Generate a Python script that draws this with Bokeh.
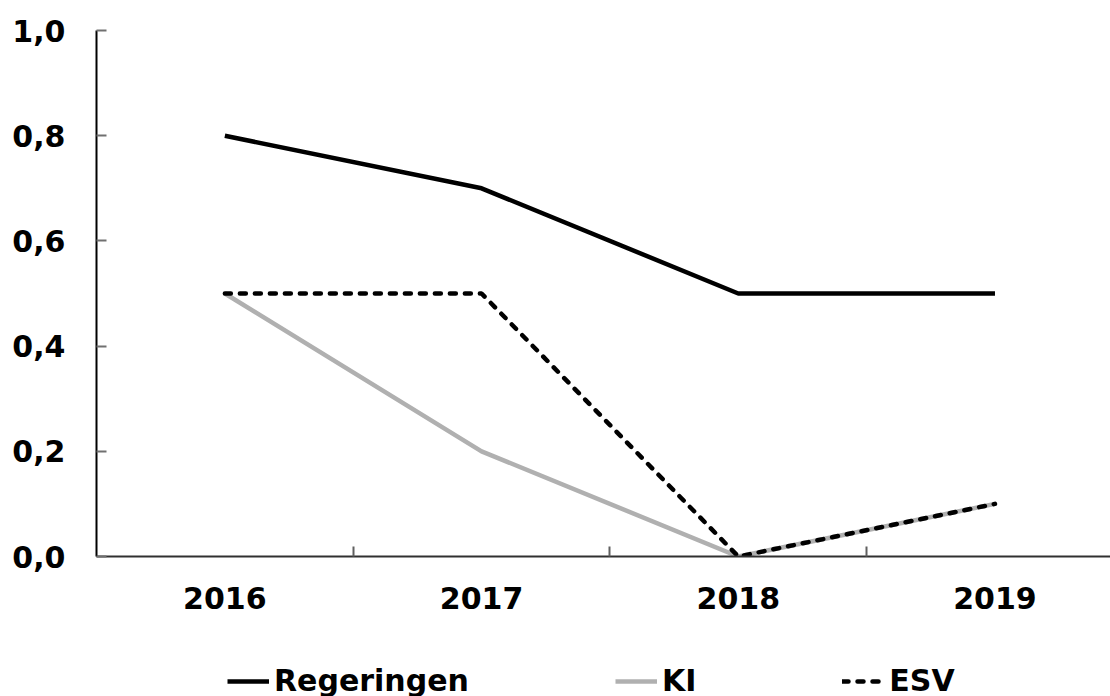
from bokeh.plotting import figure
from bokeh.models import Range1d, FixedTicker, Legend, LegendItem
from bokeh.layouts import column
from bokeh.embed import file_html
from bokeh.resources import INLINE

years = ["2016", "2017", "2018", "2019"]
regeringen = [0.8, 0.7, 0.5, 0.5]
ki = [0.5, 0.2, 0.0, 0.1]
esv = [0.5, 0.5, 0.0, 0.1]
y_ticks = [0.0, 0.2, 0.4, 0.6, 0.8, 1.0]
y_labels = ["0,0", "0,2", "0,4", "0,6", "0,8", "1,0"]
series_names = ["Regeringen", "KI", "ESV"]

xs = list(range(len(years)))
series = [regeringen, ki, esv]

FONT = "DejaVu Sans"
FS = "30px"
styles = [dict(line_color="black", line_width=4.5),
          dict(line_color="#b0b0b0", line_width=4.5),
          dict(line_color="black", line_width=4.5, line_dash="6 9", line_cap="round")]

p = figure(width=1110, height=622, output_backend="svg", toolbar_location=None,
           x_range=Range1d(-0.5, 3.45), y_range=Range1d(0, 1.0),
           min_border_left=96, min_border_right=0, min_border_top=30,
           min_border_bottom=66)
p.outline_line_color = None
p.xgrid.visible = False
p.ygrid.visible = False

p.line(xs, ki, **styles[1])
p.line(xs, esv, **styles[2])
p.line(xs, regeringen, **styles[0])

xa = p.xaxis[0]
xa.ticker = FixedTicker(ticks=xs, minor_ticks=[0.5, 1.5, 2.5])
xa.major_label_overrides = {i: y for i, y in enumerate(years)}
xa.major_tick_in = 0
xa.major_tick_out = 0
xa.minor_tick_in = 10
xa.minor_tick_out = 0
xa.minor_tick_line_color = "#606060"
xa.minor_tick_line_width = 2
xa.axis_line_color = "#303030"
xa.axis_line_width = 2
xa.major_label_text_font = FONT
xa.major_label_text_font_style = "bold"
xa.major_label_text_font_size = FS
xa.major_label_text_color = "black"
xa.major_label_standoff = 30

ya = p.yaxis[0]
ya.ticker = FixedTicker(ticks=y_ticks, minor_ticks=[])
ya.major_label_overrides = {t: l for t, l in zip(y_ticks, y_labels)}
ya.major_tick_in = 10
ya.major_tick_out = 0
ya.major_tick_line_color = "#707070"
ya.major_tick_line_width = 2
ya.axis_line_color = "black"
ya.axis_line_width = 2
ya.major_label_text_font = FONT
ya.major_label_text_font_style = "bold"
ya.major_label_text_font_size = FS
ya.major_label_text_color = "black"
ya.major_label_standoff = 31

# legend strip below the chart (its lines lie outside its visible range)
p2 = figure(width=1110, height=74, output_backend="svg", toolbar_location=None,
            x_range=Range1d(0, 1), y_range=Range1d(10, 11),
            x_axis_location=None, y_axis_location=None, min_border=0)
p2.outline_line_color = None
p2.xgrid.visible = False
p2.ygrid.visible = False
items = []
for name, vals, st in zip(series_names, series, styles):
    r = p2.line(xs, vals, **st)
    items.append(LegendItem(label=name, renderers=[r]))

legend = Legend(items=items, location=(131, -2), orientation="horizontal",
                glyph_width=42, glyph_height=30, label_standoff=5,
                spacing=146, padding=0, margin=0, border_line_color=None,
                background_fill_alpha=0, label_text_font=FONT,
                label_text_font_style="bold", label_text_font_size=FS,
                label_text_color="black", click_policy="none")
p2.add_layout(legend, "center")

layout = column(p, p2, spacing=0)
open("out.html", "w").write(file_html(layout, INLINE))
